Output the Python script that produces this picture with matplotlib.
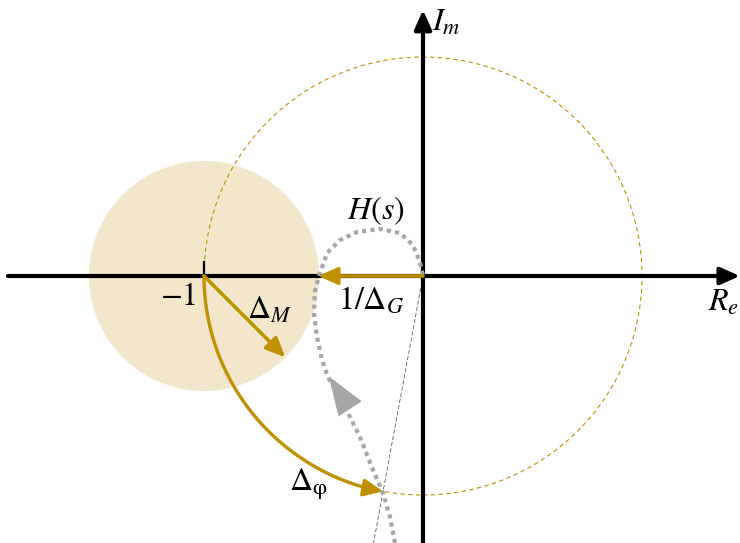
import numpy as np
import matplotlib.pyplot as plt
import matplotlib.path as mpath
from matplotlib.patches import Circle, FancyArrowPatch

plt.rcParams['mathtext.fontset'] = 'stix'

# Nyquist curve H(jw) (complex plane units)
h_re = [-0.128, -0.151, -0.183, -0.228, -0.288, -0.333, -0.388, -0.434, -0.461,
        -0.484, -0.498, -0.493, -0.475, -0.438, -0.379, -0.301, -0.196, -0.105,
        -0.046, -0.014, 0.0]
h_im = [-1.219, -1.100, -0.991, -0.886, -0.735, -0.644, -0.543, -0.461, -0.384,
        -0.279, -0.169, -0.064, 0.0, 0.105, 0.164, 0.201, 0.215, 0.196,
        0.142, 0.064, 0.0]

crit_point = -1.0
modulus_margin = 0.525      # radius of the shaded disk around -1
gain_cross = -0.479         # where H crosses the real axis
phase_margin = 79.5         # degrees
dm_angle = -45.0

gold = '#BF9000'
fill = '#F2E7CB'
grey = '#A6A6A6'

fig = plt.figure(figsize=(7.4, 5.43), dpi=100)
ax = fig.add_axes([0, 0, 1, 1])
ax.set_xlim(-423 / 219, 317 / 219)
ax.set_ylim(-267 / 219, 276 / 219)
ax.axis('off')

# shaded disk around the critical point
ax.add_patch(Circle((crit_point, 0), modulus_margin, color=fill, lw=0, zorder=0))
# unit circle
ax.add_patch(Circle((0, 0), 1.0, fill=False, ec=gold, lw=0.8, ls=(0, (4, 3)), zorder=1))

# axes with arrows
axis_head = dict(arrowstyle='-|>,head_length=0.9,head_width=0.4', color='black',
                 lw=3, mutation_scale=13, shrinkA=0, shrinkB=0)
ax.annotate('', xy=(1.447, 0), xytext=(-1.895, 0), arrowprops=axis_head, zorder=3)
ax.annotate('', xy=(0, 1.215), xytext=(0, -1.25), arrowprops=axis_head, zorder=3)
ax.plot([crit_point, crit_point], [0, 0.063], color='black', lw=1.6, zorder=3)

# phase margin line from the origin
pm = np.deg2rad(180 + phase_margin)
ax.plot([0, 1.5 * np.cos(pm)], [0, 1.5 * np.sin(pm)], color='#404040', lw=0.5,
        ls=(0, (6, 3)), zorder=2)

# Nyquist curve
ax.plot(h_re, h_im, color=grey, lw=3, ls=(0, (1, 1)), zorder=4)
ax.annotate('', xy=(h_re[7] + 0.004, h_im[7] + 0.003), xytext=(h_re[6] + 0.02, h_im[6] - 0.01),
            arrowprops=dict(arrowstyle='-|>,head_length=1.4,head_width=0.5', color=grey,
                            lw=0, mutation_scale=20, shrinkA=0, shrinkB=0), zorder=4)

gold_head = dict(arrowstyle='-|>,head_length=0.9,head_width=0.4', color=gold,
                 lw=2.6, mutation_scale=13, shrinkA=0, shrinkB=0)

# gain margin arrow
ax.annotate('', xy=(gain_cross, 0), xytext=(0, 0), arrowprops=gold_head, zorder=5)

# modulus margin arrow
a = np.deg2rad(dm_angle)
ax.annotate('', xy=(crit_point + modulus_margin * np.cos(a), modulus_margin * np.sin(a)),
            xytext=(crit_point, 0), arrowprops=gold_head, zorder=5)

# phase margin arc
arc = mpath.Path.arc(180, 180 + phase_margin)
ax.add_patch(FancyArrowPatch(path=arc, arrowstyle='-|>,head_length=0.9,head_width=0.4',
                             color=gold, lw=2.4, mutation_scale=13, zorder=5))

# labels
fs = 23
ax.text(-0.214, 0.297, r'$H(s)$', fontsize=fs, ha='center', va='center')
ax.text(-0.237, -0.110, r'$1/\Delta_G$', fontsize=fs, ha='center', va='center')
ax.text(-1.117, -0.095, r'$-1$', fontsize=fs, ha='center', va='center')
ax.text(-0.699, -0.155, r'$\Delta_M$', fontsize=fs, ha='center', va='center')
ax.text(-0.525, -0.950, r'$\Delta_{\mathrm{\varphi}}$', fontsize=fs, ha='center', va='center')
ax.text(0.04, 1.16, r'$I_m$', fontsize=fs, ha='left', va='center')
ax.text(1.3, -0.12, r'$R_e$', fontsize=fs, ha='left', va='center')

fig.savefig('out.png', dpi=100)
